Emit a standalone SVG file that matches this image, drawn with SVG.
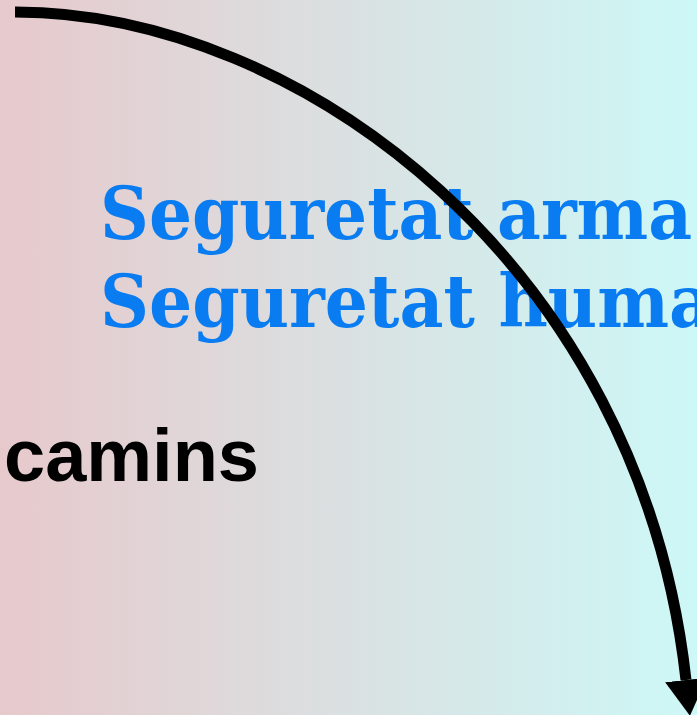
<svg xmlns="http://www.w3.org/2000/svg" width="697" height="715" viewBox="0 0 697 715">
  <defs>
    <linearGradient id="bg" x1="0" y1="0" x2="1" y2="0">
      <stop offset="0" stop-color="#e7c9cc"/>
      <stop offset="1" stop-color="#cdf8f7"/>
    </linearGradient>
    <marker id="arrow" markerUnits="userSpaceOnUse" markerWidth="36" markerHeight="42" refX="0" refY="21" orient="auto" viewBox="0 0 36 42">
      <path d="M0,0 L36,21 L0,42 Z" fill="#000"/>
    </marker>
    <style>
      .title { font-family: "DejaVu Serif Condensed", "DejaVu Serif", serif; font-stretch: condensed; font-weight: bold; font-size: 72px; fill: #0a7cf2; }
      .label { font-family: "Liberation Sans", Arial, sans-serif; font-weight: bold; font-size: 74px; fill: #000; }
      .conn { fill: none; stroke: #000; stroke-width: 11; }
    </style>
  </defs>
  <rect x="0" y="0" width="697" height="715" fill="url(#bg)"/>
  <g id="text-block">
    <text class="title" x="100" y="239" textLength="592" lengthAdjust="spacingAndGlyphs">Seguretat arma</text>
    <text class="title" x="100" y="327" textLength="613" lengthAdjust="spacingAndGlyphs">Seguretat huma</text>
  </g>
  <g id="camins">
    <text class="label" x="4" y="481">camins</text>
  </g>
  <g id="connectors">
    <path class="conn" d="M15,12 C300,12 640,265 686,680" marker-end="url(#arrow)"/>
  </g>
</svg>
